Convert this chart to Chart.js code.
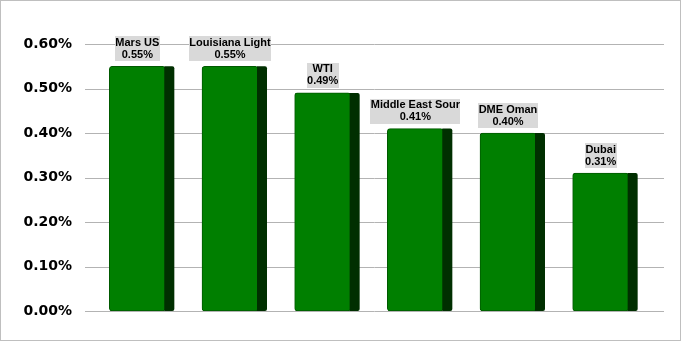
<!DOCTYPE html>
<html>
<head>
<meta charset="utf-8">
<script src="https://cdn.jsdelivr.net/npm/chart.js@4.4.1/dist/chart.umd.min.js"></script>
<style>
  body { margin: 0; background: #fff; }
  #wrap { width: 679px; height: 339px; border: 1px solid #bfbfbf; position: relative; }
  canvas { position: absolute; left: -1px; top: -1px; }
</style>
</head>
<body>
<div id="wrap"><canvas id="spreadChart" width="681" height="341"></canvas></div>
<script>
// crude grades and their values (percent)
const grades = ['Mars US', 'Louisiana Light', 'WTI', 'Middle East Sour', 'DME Oman', 'Dubai'];
const spreadValues = [0.55, 0.55, 0.49, 0.41, 0.40, 0.31];
const yTicks = [0, 0.1, 0.2, 0.3, 0.4, 0.5, 0.6];

const fmtPct = v => v.toFixed(2) + '%';

// horizontal grid lines, a bit wider than the plot area like the original
const gridPlugin = {
    id: 'wideGrid',
    beforeDatasetsDraw(chart) {
        const ctx = chart.ctx;
        const y = chart.scales.y;
        ctx.save();
        ctx.strokeStyle = '#b3b3b3';
        ctx.lineWidth = 1;
        yTicks.forEach(t => {
            const py = Math.round(y.getPixelForValue(t)) + 0.5;
            ctx.beginPath();
            ctx.moveTo(85, py);
            ctx.lineTo(664, py);
            ctx.stroke();
        });
        ctx.restore();
    }
};

// dark side face + grey value labels
const barDecor = {
    id: 'barDecor',
    afterDatasetsDraw(chart) {
        const ctx = chart.ctx;
        const meta = chart.getDatasetMeta(0);
        ctx.save();
        meta.data.forEach((bar, i) => {
            const half = bar.width / 2;
            const x0 = bar.x + half - 1;
            const w = 10;
            const top = bar.y;
            const base = bar.base;
            ctx.fillStyle = '#002f00';
            ctx.beginPath();
            ctx.moveTo(x0, top);
            ctx.lineTo(x0 + w - 2, top);
            ctx.quadraticCurveTo(x0 + w, top, x0 + w, top + 2);
            ctx.lineTo(x0 + w, base - 2);
            ctx.quadraticCurveTo(x0 + w, base, x0 + w - 2, base);
            ctx.lineTo(x0, base);
            ctx.closePath();
            ctx.fill();

            // label box
            ctx.font = 'bold 11px "Liberation Sans", Arial, sans-serif';
            const name = grades[i];
            const val = fmtPct(spreadValues[i]);
            const tw = Math.max(ctx.measureText(name).width, ctx.measureText(val).width) + 1;
            const bh = 25;
            const by = top - 5 - bh;
            const bx = bar.x - tw / 2;
            ctx.fillStyle = '#d9d9d9';
            ctx.fillRect(Math.round(bx), Math.round(by), Math.round(tw), bh);
            ctx.fillStyle = '#000';
            ctx.textAlign = 'center';
            ctx.textBaseline = 'middle';
            ctx.fillText(name, bar.x, by + 6.5);
            ctx.fillText(val, bar.x, by + 18.5);
        });
        ctx.restore();
    }
};

new Chart(document.getElementById('spreadChart'), {
    type: 'bar',
    data: {
        labels: grades,
        datasets: [{
            data: spreadValues,
            backgroundColor: '#007f00',
            borderColor: '#005a00',
            borderWidth: 1,
            borderRadius: 3,
            borderSkipped: false,
            barThickness: 56
        }]
    },
    options: {
        responsive: false,
        animation: false,
        devicePixelRatio: 1,
        layout: { padding: { left: 1, right: 34, top: 44, bottom: 30 } },
        plugins: {
            legend: { display: false },
            tooltip: { enabled: false }
        },
        scales: {
            x: { display: false },
            y: {
                min: 0,
                max: 0.6,
                afterFit: s => { s.width = 90; },
                afterBuildTicks: s => { s.ticks = yTicks.map(v => ({ value: v })); },
                grid: { display: false, drawTicks: false },
                border: { display: false },
                ticks: {
                    padding: 19,
                    color: '#000',
                    font: { family: '"DejaVu Sans", sans-serif', size: 14, weight: 'bold' },
                    callback: v => fmtPct(v)
                }
            }
        }
    },
    plugins: [gridPlugin, barDecor]
});
</script>
</body>
</html>
